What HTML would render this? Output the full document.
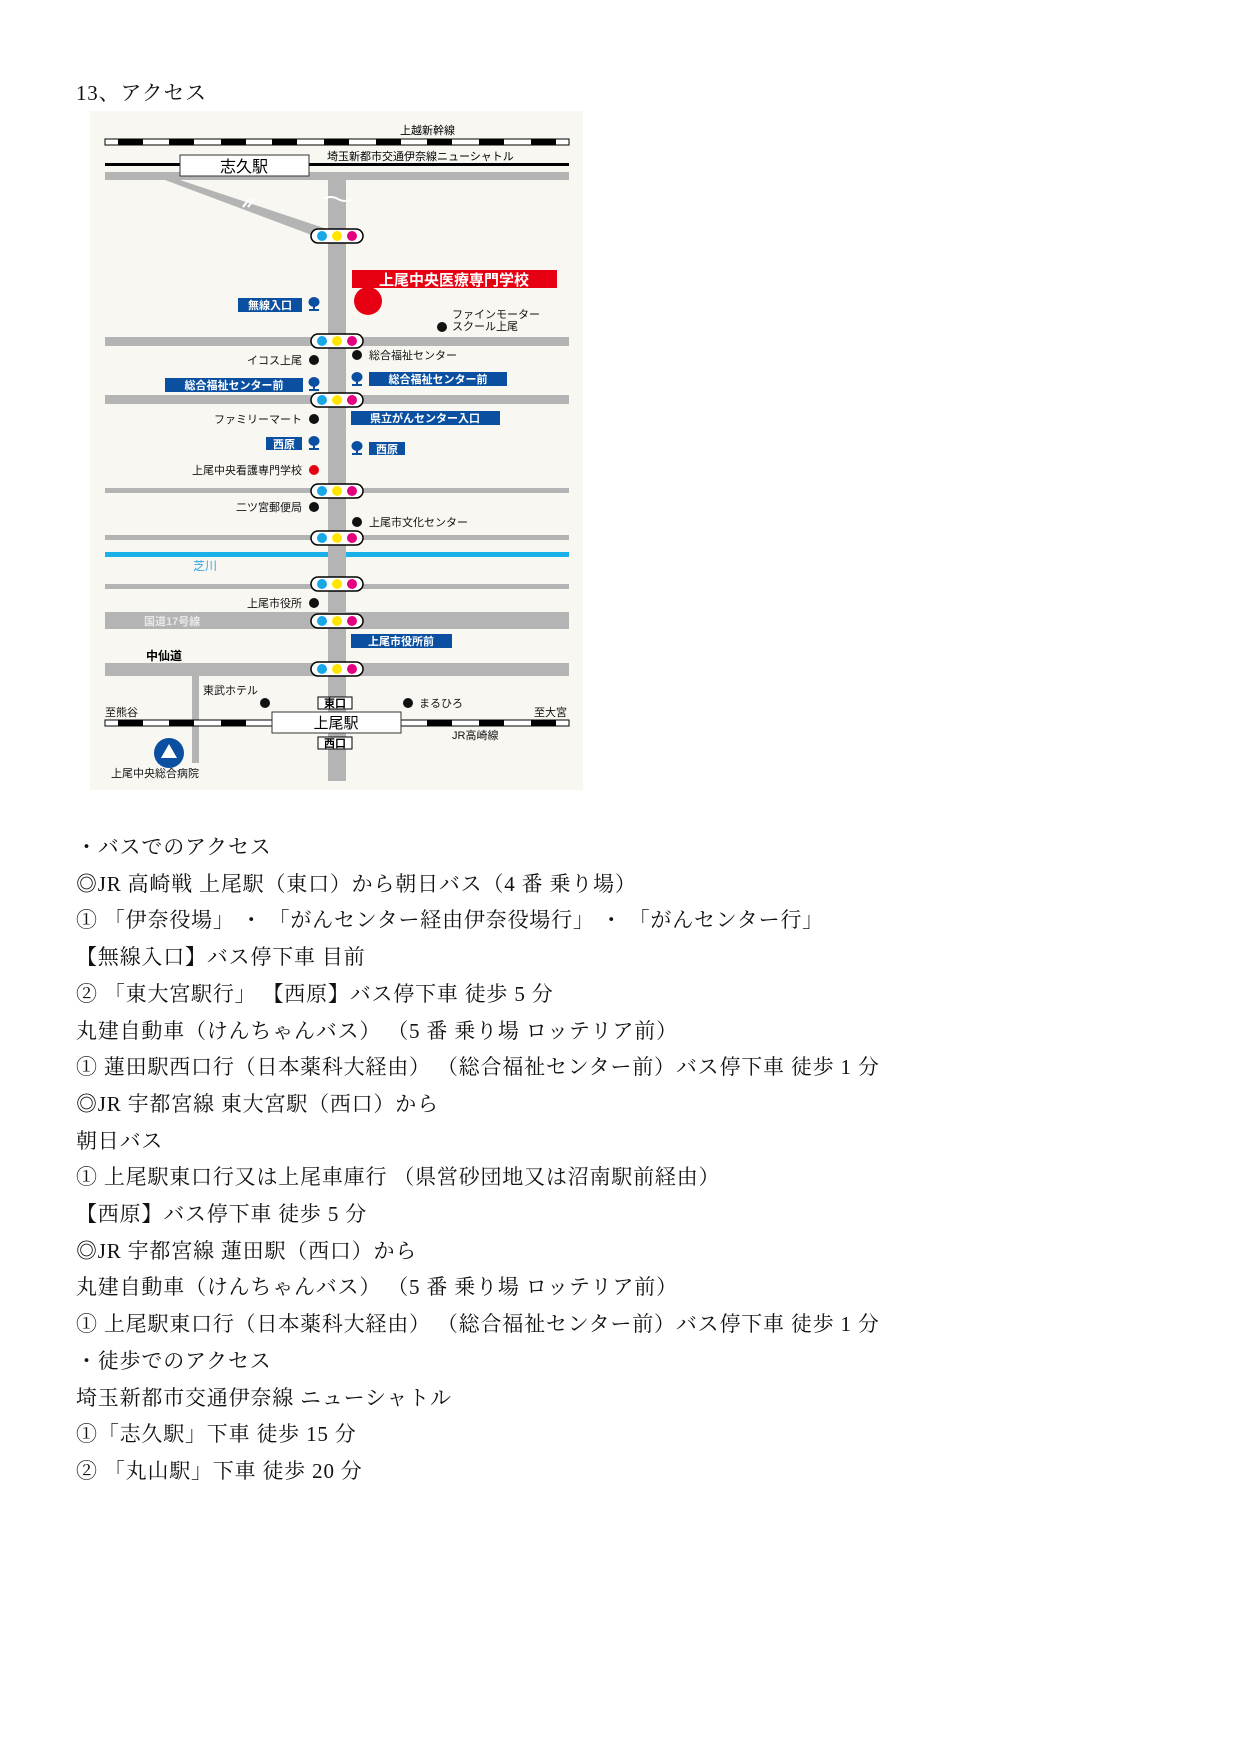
<!DOCTYPE html>
<html><head><meta charset="utf-8"><style>
body{margin:0;width:1241px;height:1755px;background:#fff;position:relative;overflow:hidden}
.t{position:absolute;left:76px;font-family:"Liberation Serif","Noto Serif CJK JP",serif;font-size:21px;color:#111;white-space:pre;line-height:36.7px;letter-spacing:0.8px}
svg text{font-family:"Liberation Sans","Noto Sans CJK JP",sans-serif}
</style></head><body>
<div class="t" style="top:75px">13、アクセス</div>
<svg width="1241" height="800" style="position:absolute;left:0;top:0">
<defs>
<g id="sig"><rect x="-26" y="-7" width="52" height="14" rx="7" fill="#fff" stroke="#000" stroke-width="1.5"/><circle cx="-15" cy="0" r="5" fill="#18a8e6"/><circle cx="0" cy="0" r="5" fill="#ffe600"/><circle cx="15" cy="0" r="5" fill="#e4007f"/></g>
<g id="bus"><ellipse cx="0" cy="-2" rx="5.5" ry="5" fill="#0a4fa0"/><rect x="-1" y="1" width="2" height="5" fill="#0a4fa0"/><rect x="-5" y="5" width="10" height="2" fill="#0a4fa0"/></g>
</defs>
<rect x="90" y="111" width="493" height="679" fill="#f8f7f2"/>
<rect x="105" y="139" width="464" height="6" fill="#fff" stroke="#000" stroke-width="1"/>
<g fill="#000"><rect x="118" y="139" width="25" height="6"/><rect x="169" y="139" width="25" height="6"/><rect x="221" y="139" width="25" height="6"/><rect x="272" y="139" width="25" height="6"/><rect x="324" y="139" width="25" height="6"/><rect x="376" y="139" width="25" height="6"/><rect x="427" y="139" width="25" height="6"/><rect x="479" y="139" width="25" height="6"/><rect x="531" y="139" width="25" height="6"/></g>
<text x="400" y="134" font-size="11">上越新幹線</text>
<rect x="105" y="163" width="464" height="3" fill="#000"/>
<text x="327" y="160" font-size="11">埼玉新都市交通伊奈線ニューシャトル</text>
<g fill="#b4b4b4">
<rect x="105" y="172" width="464" height="8"/>
<polygon points="165,180 180,180 330,230 325,240"/>
<rect x="328" y="172" width="18" height="609"/>
<rect x="105" y="337" width="464" height="9"/>
<rect x="105" y="395" width="464" height="9"/>
<rect x="105" y="488" width="464" height="5"/>
<rect x="105" y="535" width="464" height="5"/>
<rect x="105" y="584" width="464" height="5"/>
<rect x="105" y="612" width="464" height="17"/>
<rect x="105" y="663" width="464" height="13"/>
<rect x="192" y="676" width="7" height="87"/>
</g>
<path d="M243 207 l6 -8 M248 207 l6 -8" stroke="#fff" stroke-width="2"/>
<path d="M323 199 q8 -4 15 0 t15 0" stroke="#fff" stroke-width="2" fill="none"/>
<rect x="180" y="155" width="129" height="21" fill="#fff" stroke="#333"/>
<text x="244" y="172" font-size="16" text-anchor="middle">志久駅</text>
<rect x="105" y="552" width="223" height="5" fill="#1ab0e8"/><rect x="346" y="552" width="223" height="5" fill="#1ab0e8"/>
<text x="193" y="570" font-size="12" fill="#3aa8e0">芝川</text>
<use href="#sig" x="337" y="236"/><use href="#sig" x="337" y="341"/><use href="#sig" x="337" y="400"/><use href="#sig" x="337" y="491"/><use href="#sig" x="337" y="538"/><use href="#sig" x="337" y="584"/><use href="#sig" x="337" y="621"/><use href="#sig" x="337" y="669"/>
<rect x="352" y="270" width="205" height="18" fill="#e60012"/>
<text x="454" y="285" font-size="15" font-weight="bold" fill="#fff" text-anchor="middle">上尾中央医療専門学校</text>
<circle cx="368" cy="301" r="14" fill="#e60012"/>
<g font-size="11" font-weight="bold" fill="#fff" text-anchor="middle">
<rect x="238" y="298" width="64" height="14" fill="#0a4fa0"/><text x="270" y="309">無線入口</text>
<rect x="165" y="378" width="138" height="14" fill="#0a4fa0"/><text x="234" y="389">総合福祉センター前</text>
<rect x="369" y="372" width="138" height="14" fill="#0a4fa0"/><text x="438" y="383">総合福祉センター前</text>
<rect x="351" y="411" width="149" height="14" fill="#0a4fa0"/><text x="425" y="422">県立がんセンター入口</text>
<rect x="266" y="437" width="36" height="13" fill="#0a4fa0"/><text x="284" y="448">西原</text>
<rect x="369" y="442" width="36" height="13" fill="#0a4fa0"/><text x="387" y="453">西原</text>
<rect x="351" y="634" width="101" height="14" fill="#0a4fa0"/><text x="401" y="645">上尾市役所前</text>
</g>
<use href="#bus" x="314" y="304"/><use href="#bus" x="314" y="384"/><use href="#bus" x="357" y="379"/><use href="#bus" x="314" y="443"/><use href="#bus" x="357" y="448"/>
<g font-size="11" fill="#111">
<text x="452" y="318">ファインモーター</text><text x="452" y="330">スクール上尾</text><circle cx="442" cy="327" r="5"/>
<text x="302" y="364" text-anchor="end">イコス上尾</text><circle cx="314" cy="360" r="5"/>
<circle cx="357" cy="355" r="5"/><text x="369" y="359">総合福祉センター</text>
<text x="302" y="423" text-anchor="end">ファミリーマート</text><circle cx="314" cy="419" r="5"/>
<text x="302" y="474" text-anchor="end">上尾中央看護専門学校</text><circle cx="314" cy="470" r="5" fill="#e60012"/>
<text x="302" y="511" text-anchor="end">二ツ宮郵便局</text><circle cx="314" cy="507" r="5"/>
<circle cx="357" cy="522" r="5"/><text x="369" y="526">上尾市文化センター</text>
<text x="302" y="607" text-anchor="end">上尾市役所</text><circle cx="314" cy="603" r="5"/>
<text x="203" y="694">東武ホテル</text><circle cx="265" cy="703" r="5"/>
<circle cx="408" cy="703" r="5"/><text x="419" y="707">まるひろ</text>
<text x="105" y="716">至熊谷</text><text x="567" y="716" text-anchor="end">至大宮</text>
<text x="452" y="739">JR高崎線</text>
<text x="111" y="777">上尾中央総合病院</text>
</g>
<text x="144" y="625" font-size="11" font-weight="bold" fill="#e8e8e8">国道17号線</text>
<text x="146" y="660" font-size="12" font-weight="bold">中仙道</text>
<rect x="105" y="720" width="464" height="6" fill="#fff" stroke="#000" stroke-width="1"/>
<g fill="#000"><rect x="118" y="720" width="25" height="6"/><rect x="169" y="720" width="25" height="6"/><rect x="221" y="720" width="25" height="6"/><rect x="427" y="720" width="25" height="6"/><rect x="479" y="720" width="25" height="6"/><rect x="531" y="720" width="25" height="6"/></g>
<rect x="272" y="712" width="129" height="21" fill="#fff" stroke="#333"/>
<text x="336" y="728" font-size="15" text-anchor="middle">上尾駅</text>
<rect x="318" y="697" width="34" height="12" fill="#fff" stroke="#000"/><text x="335" y="707" font-size="11" font-weight="bold" text-anchor="middle">東口</text>
<rect x="318" y="737" width="34" height="12" fill="#fff" stroke="#000"/><text x="335" y="747" font-size="11" font-weight="bold" text-anchor="middle">西口</text>
<circle cx="169" cy="753" r="15" fill="#0a4fa0"/><polygon points="169,744 177,758 161,758" fill="#fff"/>
</svg>
<div class="t" style="top:829px">・バスでのアクセス
◎JR 高崎戦 上尾駅（東口）から朝日バス（4 番 乗り場）
① 「伊奈役場」 ・ 「がんセンター経由伊奈役場行」 ・ 「がんセンター行」
【無線入口】バス停下車 目前
② 「東大宮駅行」 【西原】バス停下車 徒歩 5 分
丸建自動車（けんちゃんバス） （5 番 乗り場 ロッテリア前）
① 蓮田駅西口行（日本薬科大経由） （総合福祉センター前）バス停下車 徒歩 1 分
◎JR 宇都宮線 東大宮駅（西口）から
朝日バス
① 上尾駅東口行又は上尾車庫行 （県営砂団地又は沼南駅前経由）
【西原】バス停下車 徒歩 5 分
◎JR 宇都宮線 蓮田駅（西口）から
丸建自動車（けんちゃんバス） （5 番 乗り場 ロッテリア前）
① 上尾駅東口行（日本薬科大経由） （総合福祉センター前）バス停下車 徒歩 1 分
・徒歩でのアクセス
埼玉新都市交通伊奈線 ニューシャトル
①「志久駅」下車 徒歩 15 分
② 「丸山駅」下車 徒歩 20 分</div>
</body></html>
